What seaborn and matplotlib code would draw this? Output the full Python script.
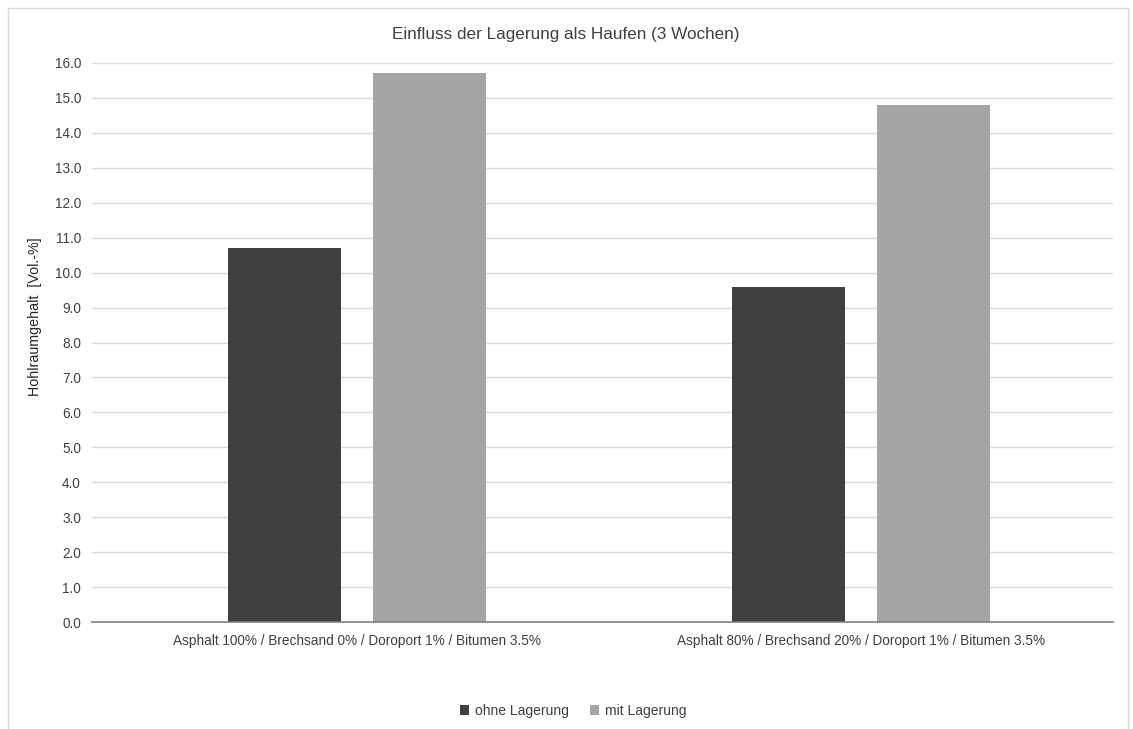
import matplotlib
matplotlib.use("Agg")
import matplotlib.pyplot as plt
import seaborn as sns
import pandas as pd
from matplotlib.patches import Rectangle

categories = ["Asphalt 100% / Brechsand 0% / Doroport 1% / Bitumen 3.5%",
              "Asphalt 80% / Brechsand 20% / Doroport 1% / Bitumen 3.5%"]
series = ["ohne Lagerung", "mit Lagerung"]
ohne_lagerung = [10.7, 9.6]
mit_lagerung = [15.7, 14.8]
yticks = [i * 1.0 for i in range(17)]

df = pd.DataFrame({
    "cat": categories * 2,
    "series": [series[0]] * 2 + [series[1]] * 2,
    "value": ohne_lagerung + mit_lagerung,
})

sns.set_theme(style="white")
plt.rcParams['font.family'] = ['Liberation Sans Narrow', 'Liberation Sans', 'DejaVu Sans']

fig = plt.figure(figsize=(11.33, 7.29), dpi=100)
ax = fig.add_axes([92/1133, 1-622/729, (1113-92)/1133, (622-63)/729])

sns.barplot(data=df, x="cat", y="value", hue="series", order=categories,
            hue_order=series, palette=["#404040", "#a5a5a5"],
            width=0.575, gap=0.22, ax=ax, legend=True, saturation=1)

ax.set_ylim(0, 16)
ax.set_xlim(-0.526, 1.5)
ax.set_yticks(yticks)
ax.set_yticklabels([f"{v:.1f}" for v in yticks], fontsize=9.8, color="#404040")
ax.tick_params(axis="x", labelsize=9.8, labelcolor="#404040", length=0, pad=9)
ax.tick_params(axis="y", length=0, pad=8)
ax.yaxis.grid(True, color="#d9d9d9", linewidth=1)
ax.set_axisbelow(True)
for s in ["top", "right", "left"]:
    ax.spines[s].set_visible(False)
ax.spines["bottom"].set_color("#808080")
ax.spines["bottom"].set_linewidth(1.2)
ax.set_xlabel("")
ax.set_ylabel("Hohlraumgehalt  [Vol.-%]", fontsize=10.3, color="#262626")
ax.yaxis.set_label_coords(42/1133, 1-317/729, transform=fig.transFigure)

for p in ax.patches:
    p.set_edgecolor("none")

handles, labels = ax.get_legend_handles_labels()
ax.legend_.remove()
fig.legend(handles, labels, loc="center", bbox_to_anchor=(573/1133, 1-711/729),
           ncol=2, frameon=False, fontsize=10, handlelength=0.7, handleheight=0.7,
           handletextpad=0.4, columnspacing=1.5, labelcolor="#404040")

fig.text(566/1133, 1-34/729, "Einfluss der Lagerung als Haufen (3 Wochen)",
         ha="center", va="center", fontsize=12.3, color="#404040")

fig.patches.append(Rectangle((7.5/1133, -0.01), (1128-7.5)/1133, 1.01-8/729,
                             transform=fig.transFigure, fill=False,
                             edgecolor="#d9d9d9", linewidth=1))

fig.savefig("out.png", dpi=100)
